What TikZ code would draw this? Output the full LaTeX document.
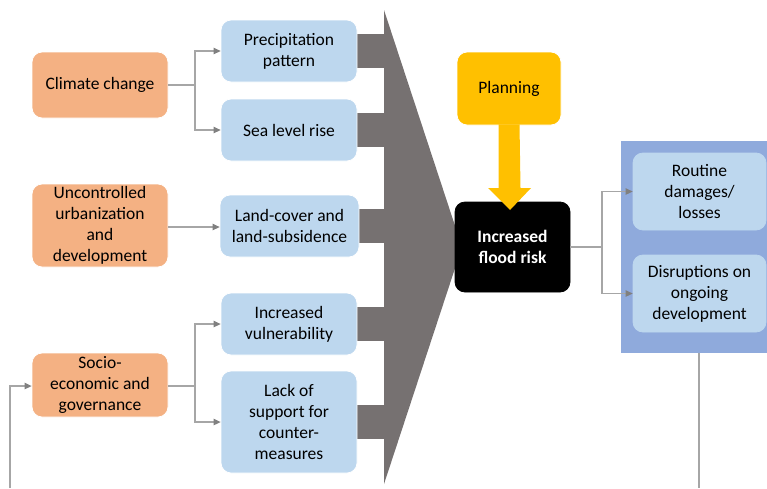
\documentclass[tikz,border=0pt]{standalone}
\usepackage{fontspec}
\setmainfont{Carlito}
\usetikzlibrary{arrows.meta,backgrounds}
\definecolor{orangebox}{HTML}{F4B183}
\definecolor{bluebox}{HTML}{BDD7EE}
\definecolor{bargray}{HTML}{767171}
\definecolor{planyellow}{HTML}{FFC000}
\definecolor{panelblue}{HTML}{8FAADC}
\definecolor{linegray}{HTML}{A6A6A6}
\definecolor{tipgray}{HTML}{808080}
\tikzset{
  box/.style={rounded corners=10pt, draw=white, line width=0.8pt, inner sep=0pt,
    align=center, font=\fontsize{17.5}{21}\selectfont, text=black},
  cause/.style={box, fill=orangebox, minimum width=136pt},
  effect/.style={box, fill=bluebox, minimum width=136pt, minimum height=62pt},
  conn/.style={draw=linegray, line width=1.2pt},
  arr/.style={conn, -{Triangle[length=7pt,width=6.5pt,fill=tipgray,color=tipgray]}},
  bar/.style={fill=bargray, draw=none},
}
\begin{document}
\begin{tikzpicture}[x=1pt,y=-1pt]
\useasboundingbox (0,0) rectangle (767,488);

% grey funnel (background)
\fill[bargray] (384,10) -- (462,247) -- (384,484) -- cycle;

% cause nodes
\node[cause, minimum height=66pt] (cc) at (100,85) {Climate change};
\node[cause, minimum height=83pt] (ur) at (100,225.5) {Uncontrolled\\urbanization\\and\\development};
\node[cause, minimum height=64pt] (se) at (100,385) {Socio-\\economic and\\governance};

% effect nodes
\node[effect] (pp) at (289,51) {Precipitation\\pattern};
\node[effect] (sl) at (289,130) {Sea level rise};
\node[effect, minimum width=139pt] (lc) at (289.5,226) {Land-cover and\\land-subsidence};
\node[effect] (iv) at (289,324) {Increased\\vulnerability};
\node[effect, minimum height=102pt] (ls) at (289,422) {Lack of\\support for\\counter-\\measures};

% bars from effects into funnel
\begin{scope}[on background layer]
\foreach \n in {pp,sl,lc,iv,ls}{
  \fill[bargray] ([yshift=17pt]\n.east) ++(-8,0) rectangle ([yshift=-17pt,xshift=30pt]\n.east);
}
\end{scope}

% planning and flood risk
\node[box, fill=planyellow, minimum width=104pt, minimum height=73pt] (plan) at (509,88.5) {Planning};
\node[box, fill=black, draw=black, text=white, minimum width=115pt, minimum height=90pt,
  font=\fontsize{17.5}{21}\selectfont\bfseries] (fr) at (512.5,247) {Increased\\flood risk};

% yellow block arrow
\fill[planyellow] (plan.south) ++(-10.5,-1) -- ++(21,0) -- (520.5,188) -- (531,188)
  -- (510,210) -- (488,188) -- (498.5,188) -- cycle;

% consequences panel
\node[fill=panelblue, draw=none, minimum width=146pt, minimum height=212pt, inner sep=0pt]
  (panel) at (694,247) {};
\node[box, fill=bluebox, draw=bluebox, minimum width=133pt, minimum height=77pt] (rd) at (699.5,191.5) {Routine\\damages/\\losses};
\node[box, fill=bluebox, draw=bluebox, minimum width=133pt, minimum height=77pt] (do) at (699.5,293.5) {Disruptions on\\ongoing\\development};

% connectors
\coordinate (j1) at (195,85);
\draw[conn] (cc.east) -- (j1);
\draw[arr] (j1) |- (pp.west);
\draw[arr] (j1) |- (sl.west);

\draw[arr] (ur.east |- 0,227) -- (lc.west |- 0,227);

\coordinate (j2) at (195,386);
\draw[conn] (se.east |- j2) -- (j2);
\draw[arr] (j2) |- (iv.west);
\draw[arr] (j2) |- (ls.west);

\coordinate (j3) at (602,247);
\draw[conn] (fr.east) -- (j3);
\draw[arr] (j3) |- (rd.west);
\draw[arr] (j3) |- (do.west);

% feedback loop (continues off the picture)
\coordinate (b1) at (699,488);
\coordinate (b0) at (10,488);
\draw[conn] (b1 |- panel.south) -- (b1);
\draw[arr] (b0) |- (se.west |- j2);
\end{tikzpicture}
\end{document}
